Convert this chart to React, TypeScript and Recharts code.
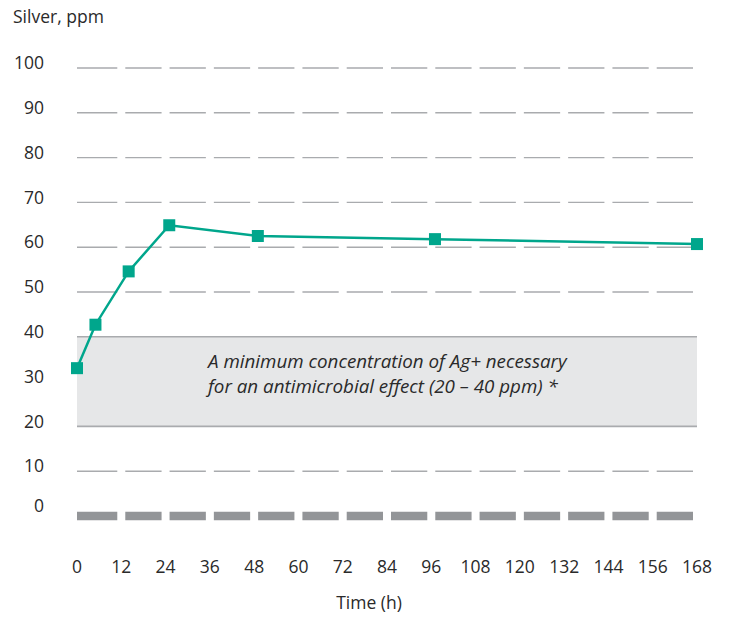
import { LineChart, Line, XAxis, YAxis, CartesianGrid, ReferenceArea, ReferenceLine } from "recharts";

// hours / silver release (ppm)
const hours = [0, 5, 14, 25, 49, 97, 168];
const silverPpm = [33, 42.7, 54.6, 64.9, 62.5, 61.8, 60.7];

const xTicks = [0, 12, 24, 36, 48, 60, 72, 84, 96, 108, 120, 132, 144, 156, 168];
const yTicks = [0, 10, 20, 30, 40, 50, 60, 70, 80, 90, 100];
const gridValues = [10, 50, 60, 70, 80, 90, 100];

const bandFrom = 20;
const bandTo = 40;
const bandText = ["A minimum concentration of Ag+ necessary", "for an antimicrobial effect (20 – 40 ppm) *"];

const W = 729;
const H = 617;
const LEFT = 77;
const RIGHT = 32;
const TOP = 68;
const X_AXIS_H = 101;
const PLOT_W = W - LEFT - RIGHT;
const CELL = PLOT_W / (xTicks.length - 1);

// first dash starts at x=0, then each dash sits between ticks with a small inset
const dashes = [`${CELL - 4} 8`, ...Array(xTicks.length).fill(`${CELL - 8} 8`)].join(" ");

const FONT = "'Open Sans', sans-serif";
const TEXT = "#2a2a2a";
const TEAL = "#00a68c";
const GRID = "#a9abae";

const YTick = (props: any) => {
    const { x, y, payload } = props;
    const shift = payload.value === 0 ? -10 : -5;
    return (
        <text x={x} y={y + shift} dy="0.35em" textAnchor="end" fontSize={17.5} fill={TEXT} fontFamily={FONT}>
            {payload.value}
        </text>
    );
};

const XTick = (props: any) => {
    const { x, y, payload } = props;
    return (
        <text x={x} y={y + 43} dy="0.35em" textAnchor="middle" fontSize={17.5} fill={TEXT} fontFamily={FONT}>
            {payload.value}
        </text>
    );
};

const SquareDot = (props: any) => {
    const { cx, cy } = props;
    return <rect x={cx - 6} y={cy - 6} width={12} height={12} fill={TEAL} />;
};

const GridLine = (props: any) => {
    const { x1, x2, y1, y2 } = props;
    return <line x1={x1} x2={x2} y1={y1} y2={y2} stroke={GRID} strokeWidth={1.4} strokeDasharray={dashes} />;
};

const BandLabel = (props: any) => {
    const { viewBox } = props;
    const x = viewBox.x + 131;
    return (
        <text fontSize={18.8} fill={TEXT} fontStyle="italic" fontFamily={FONT}>
            <tspan x={x} y={viewBox.y + 31}>{bandText[0]}</tspan>
            <tspan x={x} y={viewBox.y + 56}>{bandText[1]}</tspan>
        </text>
    );
};

export default function App() {
    const data = hours.map((h, i) => ({ h, v: silverPpm[i] }));

    return (
        <div style={{ position: "absolute", left: 0, top: 0, background: "#fff" }}>
            <LineChart width={W} height={H} data={data} margin={{ top: TOP, right: RIGHT, bottom: 0, left: 0 }}>
                <CartesianGrid vertical={false} horizontal={GridLine} horizontalValues={gridValues} />
                <XAxis
                    dataKey="h"
                    type="number"
                    domain={[0, 168]}
                    ticks={xTicks}
                    axisLine={false}
                    tickLine={false}
                    height={X_AXIS_H}
                    tick={XTick}
                    interval={0}
                    label={{
                        content: () => (
                            <text x={369} y={609} textAnchor="middle" fontSize={17.5} fill={TEXT} fontFamily={FONT}>
                                Time (h)
                            </text>
                        ),
                    }}
                />
                <YAxis
                    type="number"
                    domain={[0, 100]}
                    ticks={yTicks}
                    axisLine={false}
                    tickLine={false}
                    tickSize={0}
                    tickMargin={33}
                    width={LEFT}
                    tick={YTick}
                    interval={0}
                    label={{
                        content: () => (
                            <text x={13} y={23} fontSize={17.5} fill={TEXT} fontFamily={FONT}>
                                Silver, ppm
                            </text>
                        ),
                    }}
                />
                <ReferenceArea y1={bandFrom} y2={bandTo} fill="#e6e7e8" fillOpacity={1} stroke="none" label={<BandLabel />} />
                <ReferenceLine y={bandFrom} stroke={GRID} strokeWidth={1.6} />
                <ReferenceLine y={bandTo} stroke={GRID} strokeWidth={1.6} />
                <ReferenceLine y={0} stroke="#939598" strokeWidth={8.5} strokeDasharray={dashes} />
                <Line
                    dataKey="v"
                    type="linear"
                    stroke={TEAL}
                    strokeWidth={2.5}
                    dot={<SquareDot />}
                    activeDot={false}
                    isAnimationActive={false}
                />
            </LineChart>
        </div>
    );
}
